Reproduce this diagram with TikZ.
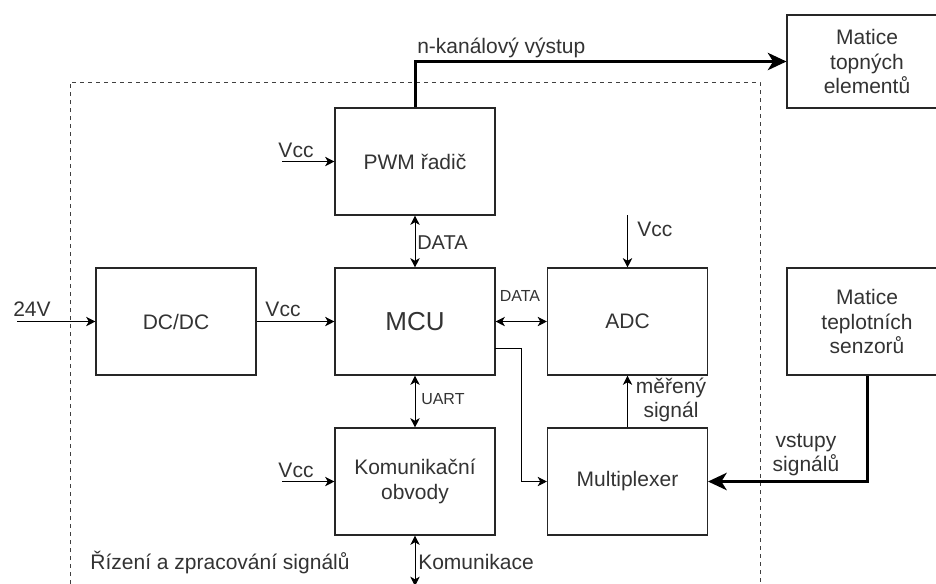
\documentclass[tikz,border=0pt]{standalone}
\usepackage{fontspec}
\setmainfont{Liberation Sans}
\usetikzlibrary{arrows.meta}
\begin{document}
\begin{tikzpicture}[x=0.75pt,y=-0.75pt,
  blk/.style={draw=black!85, line width=0.8pt, minimum width=120pt, minimum height=80.25pt, inner sep=0pt, align=center, text=black!80, font=\fontsize{15.75}{18.5}\selectfont},
  lbl/.style={inner sep=0pt, text=black!80, font=\fontsize{15.75}{18}\selectfont},
  small/.style={inner sep=0pt, text=black!80, font=\fontsize{12}{14}\selectfont},
  arr/.style={draw=black, line width=0.75pt, -{Stealth[length=7pt,width=7pt,inset=2pt]}},
  darr/.style={draw=black, line width=0.75pt, {Stealth[length=7pt,width=7pt,inset=2pt]}-{Stealth[length=7pt,width=7pt,inset=2pt]}},
  tarr/.style={draw=black, line width=2.25pt, -{Stealth[length=14pt,width=13pt,inset=4pt]}},
  frame/.style={draw=black!75, line width=0.75pt, dash pattern=on 3pt off 3pt}
]
\useasboundingbox (0,0) rectangle (936,583);
\clip (0,0) rectangle (936,583);
\fill[white] (0,0) rectangle (936,583);

% dashed frame
\coordinate (fbl) at (70,600);
\coordinate (ftl) at (70,82);
\coordinate (ftr) at (760,82);
\coordinate (fbr) at (760,600);
\draw[frame] (fbl) -- (ftl) -- (ftr) -- (fbr);

% blocks
\node[blk] (pwm) at (415,161.5) {PWM řadič};
\node[blk, font=\fontsize{19.5}{22}\selectfont] (mcu) at (415,321.5) {MCU};
\node[blk] (dc) at (176,321.5) {DC/DC};
\node[blk] (adc) at (627.5,321.5) {ADC};
\node[blk] (kom) at (415,481.5) {Komunikační\\obvody};
\node[blk] (mux) at (627.5,481.5) {Multiplexer};
\node[blk, minimum height=69.75pt] (mt) at (867,61.5) {Matice\\topných\\elementů};
\node[blk] (ms) at (867,321.5) {Matice\\teplotních\\senzorů};

% thick connectors
\draw[tarr] (pwm.north) |- (mt.west);
\node[lbl, anchor=west] (lnk) at (417,48) {n-kanálový výstup};
\draw[tarr] (ms.south) |- (mux.east);
\node[lbl, align=center] (lvs) at (806,455) {vstupy\\signálů};

% power inputs
\coordinate (v24) at (17,321.5);
\draw[arr] (v24) -- (dc.west);
\node[lbl] (l24) at (32,309) {24V};
\draw[arr] (dc.east) -- (mcu.west);
\node[lbl] (lvm) at (283,309) {Vcc};
\coordinate (vp) at (282,161.5);
\draw[arr] (vp) -- (pwm.west);
\node[lbl] (lvp) at (296,150) {Vcc};
\coordinate (vk) at (282,481.5);
\draw[arr] (vk) -- (kom.west);
\node[lbl] (lvk) at (296,470) {Vcc};
\coordinate (va) at (627.5,215);
\draw[arr] (va) -- (adc.north);
\node[lbl, anchor=west] (lva) at (637,229) {Vcc};

% data links
\draw[darr] (pwm.south) -- (mcu.north);
\node[lbl, anchor=west, font=\fontsize{15}{17}\selectfont] (ld1) at (417,243) {DATA};
\draw[darr] (mcu.east) -- (adc.west);
\node[small] (ld2) at (520,296) {DATA};
\draw[darr] (mcu.south) -- (kom.north);
\node[small, anchor=west] (lu) at (421,399) {UART};
\coordinate (kb) at (415,586);
\draw[darr] (kom.south) -- (kb);
\node[lbl, anchor=west] (lk) at (418,562) {Komunikace};

\coordinate (mo) at (495,348);
\draw[arr] (mo) -- (521,348) |- (mux.west);
\draw[arr] (mux.north) -- (adc.south);
\node[lbl, align=center] (lms) at (671,400) {měřený\\signál};

\node[lbl] (lrz) at (220,562) {Řízení a zpracování signálů};
\end{tikzpicture}
\end{document}
